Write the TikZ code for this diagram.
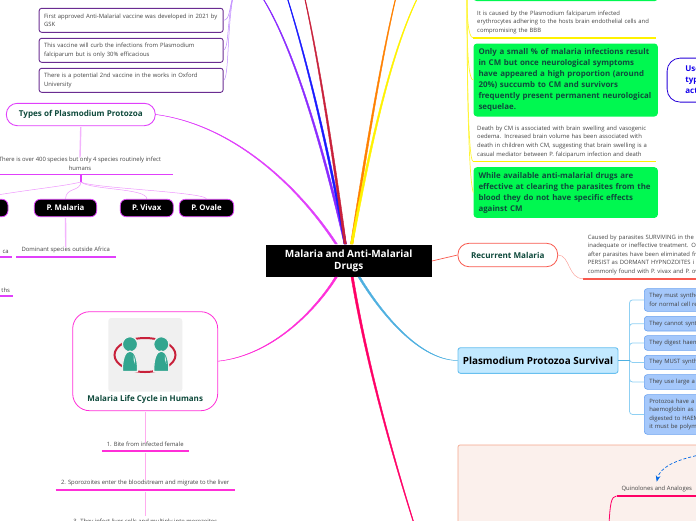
\documentclass[tikz,border=0pt]{standalone}
\usepackage{fontspec}
\setmainfont{Open Sans}
\usetikzlibrary{arrows.meta, calc}
\definecolor{inkgray}{HTML}{444444}
\definecolor{inkgreen}{HTML}{0F4A3C}
\definecolor{vacpurple}{HTML}{6A2C91}
\definecolor{lilac}{HTML}{8A2BFF}
\definecolor{typemag}{HTML}{E040FB}
\definecolor{lifemag}{HTML}{FF2FD8}
\definecolor{recred}{HTML}{F8594E}
\definecolor{skyline}{HTML}{69C0EF}
\definecolor{skyfill}{HTML}{C2E9FF}
\definecolor{skytrunk}{HTML}{4FB0E0}
\definecolor{leaffill}{HTML}{A5C8FB}
\definecolor{leafline}{HTML}{6AA2F0}
\definecolor{hotgreen}{HTML}{00F850}
\definecolor{crimson}{HTML}{FF0066}
\definecolor{winered}{HTML}{C8203A}
\definecolor{pawn}{HTML}{33A58F}
\definecolor{panelfill}{HTML}{FBF0EC}
\definecolor{panelline}{HTML}{F4A58A}
\newcommand{\limb}[5]{\filldraw[#1, line width=0.4pt] (#2) .. controls (#3) and (#4) .. ($(#5)+(-0.3,0)$) -- ($(#5)+(0.3,0)$) .. controls ($(#4)+(1.5,0)$) and ($(#3)+(2,0)$) .. ($(#2)+(2.4,0)$) -- cycle;}
\begin{document}
\begin{tikzpicture}[
    x=1pt, y=-1pt,
    >=Stealth,
    lbl/.style={font=\fontsize{5.9}{8.6}\selectfont, text=inkgray, align=left, inner sep=0pt},
    ulbl/.style={font=\fontsize{5.9}{8.6}\selectfont, text=inkgray, align=center, inner xsep=0pt, inner ysep=3.6pt, anchor=south},
    capt/.style={font=\fontsize{8.1}{10}\bfseries\selectfont, text=inkgreen, inner sep=0pt, draw, fill=white, line width=0.9pt},
    vacbox/.style={lbl, draw=vacpurple, line width=0.9pt, rounded corners=2.5pt, anchor=west, minimum width=184pt, minimum height=24pt, inner xsep=5pt, text width=174pt, fill=white},
    species/.style={font=\fontsize{7.8}{9}\bfseries\selectfont, text=white, fill=black, draw=typemag, line width=0.8pt, rounded corners=6pt, minimum height=17.4pt, inner sep=0pt},
    greenbox/.style={font=\fontsize{7.9}{11}\bfseries\selectfont, text=inkgreen, fill=hotgreen, rounded corners=3.5pt, anchor=north west, minimum width=184.4pt, inner xsep=5pt, inner ysep=0pt, text width=174.4pt, align=left},
    leafbox/.style={lbl, text=black!75, fill=leaffill, draw=leafline, line width=0.6pt, rounded corners=3pt, anchor=north west, minimum width=80pt, inner xsep=5pt, text width=70pt},
    rail/.style={line width=1.6pt},
    softlink/.style={line width=1.4pt, draw=#1!40},
    thinlink/.style={line width=0.5pt, draw=#1!55},
]
\useasboundingbox (0,0) rectangle (696,520);
\clip (0,0) rectangle (696,520);

\coordinate (hubTopL) at (344,244);
\coordinate (hubTopR) at (350.5,244);
\coordinate (hubLeft) at (335,244);
\coordinate (hubBotL) at (335,277);
\coordinate (hubBotM) at (351,277);
\coordinate (hubBotR) at (358,277);
\coordinate (purpleOut) at (262,-3);
\coordinate (blueOut) at (287,-3);
\coordinate (redOut) at (304.5,-3);
\coordinate (orangeOut) at (396,-3);
\coordinate (yellowOut) at (418,-3);
\coordinate (crimsonOut) at (416,530);

\limb{lilac}{hubTopL}{325,160}{295,50}{purpleOut}
\limb{blue!90!white}{hubTopL}{330,160}{306,60}{blueOut}
\limb{winered}{hubTopL}{333,160}{318,60}{redOut}
\limb{orange}{hubTopR}{362,170}{380,60}{orangeOut}
\limb{yellow}{hubTopR}{364,175}{386,60}{yellowOut}
\limb{crimson}{hubBotM}{365,360}{390,450}{crimsonOut}

\node[font=\fontsize{10}{11.4}\bfseries\selectfont, text=white, fill=black, align=center, minimum width=166pt, minimum height=31.7pt, inner sep=0pt] (center) at (348.7,261) {Malaria and Anti-Malarial\\Drugs};

\node[vacbox] (vacA) at (38.7,20.3) {First approved Anti-Malarial vaccine was developed in 2021 by\\GSK};
\node[vacbox] (vacB) at (38.7,50.3) {This vaccine will curb the infections from Plasmodium\\falciparum but is only 30\% efficacious};
\node[vacbox] (vacC) at (38.7,80.3) {There is a potential 2nd vaccine in the works in Oxford\\University};
\coordinate (vacOut) at (233,-3);
\draw[thinlink=lilac] (vacA.east) .. controls (230,20) and (229,8) .. (vacOut);
\draw[thinlink=lilac] (vacB.east) .. controls (229,48) and (227,20) .. (vacOut);
\draw[thinlink=lilac] (vacC.east) .. controls (229,78) and (227,30) .. (vacOut);

\node[capt, draw=typemag, rounded corners=11pt, minimum width=149pt, minimum height=22.4pt] (types) at (80.8,114.5) {Types of Plasmodium Protozoa};
\limb{typemag}{hubLeft}{300,190}{235,125}{types.east}
\node[ulbl, minimum width=186pt] (species) at (80,174.3) {There is over 400 species but only 4 species routinely infect\\humans};
\draw[rail, typemag] (species.south west) -- (species.south east);
\draw[softlink=typemag] (types.south) ++(0,1) -- ($(species.north)+(0,4)$);
\coordinate (speciesHub) at (81,182);
\draw[typemag, line width=1.3pt] (species.south -| speciesHub) -- (speciesHub);

\node[species, minimum width=68pt] (falci) at (-26,208) {};
\node[species, minimum width=62.4pt] (malaria) at (65.5,208) {P. Malaria};
\node[species, minimum width=53pt] (vivax) at (146.8,208) {P. Vivax};
\node[species, minimum width=54.4pt] (ovale) at (206.5,208) {P. Ovale};
\draw[thinlink=typemag] (speciesHub) .. controls (60,187) and (30,189) .. (falci.north);
\draw[thinlink=typemag] (speciesHub) .. controls (80,192) and (66,187) .. (malaria.north);
\draw[thinlink=typemag] (speciesHub) .. controls (90,190) and (147,188) .. (vivax.north);
\draw[thinlink=typemag] (speciesHub) .. controls (90,188) and (205,192) .. (ovale.north);

\node[ulbl, minimum width=99pt] (dominant) at (65.8,257) {Dominant species outside Africa};
\draw[rail, typemag] (dominant.south west) -- (dominant.south east);
\draw[softlink=typemag] (malaria.south) ++(0,1) -- ($(dominant.north)+(0,4)$);
\node[ulbl, minimum width=40pt, align=right, text width=34.7pt] (africa) at (-8.7,257) {ca};
\draw[rail, typemag] (africa.south west) -- (africa.south east);
\node[ulbl, minimum width=40pt, align=right, text width=35.4pt] (months) at (-7.7,296) {ths};
\draw[rail, typemag] (months.south west) -- (months.south east);

\node[draw=lifemag, fill=white, line width=0.8pt, rounded corners=17pt, minimum width=145pt, minimum height=99pt, inner sep=0pt] (cycle) at (145.2,361.2) {};
\limb{lifemag}{hubBotL}{318,305}{275,355}{cycle.east}
\fill[black!6, rounded corners=3pt] (108.3,318) rectangle (182.3,391.7);
\draw[winered, line width=2pt] (145,355) ellipse [x radius=30.5pt, y radius=17pt];
\foreach \px in {130,161.3}{
  \filldraw[pawn, draw=black!6, line width=1.2pt] (\px,344.3) circle (7.6pt);
  \filldraw[pawn, draw=black!6, line width=1.2pt] (\px-7.5,371.5) .. controls (\px-8,360) and (\px-5,351) .. (\px,351) .. controls (\px+5,351) and (\px+8,360) .. (\px+7.5,371.5) -- cycle;
  \fill[white!80!pawn] (\px+3.5,355) .. controls (\px+5,358) and (\px+5,361) .. (\px+5,364) .. controls (\px+3.5,361) and (\px+3,358) .. (\px+3.5,355) -- cycle;
}
\node[font=\fontsize{8}{9}\bfseries\selectfont, text=inkgreen, inner sep=0pt] (cyclename) at (145.2,399) {Malaria Life Cycle in Humans};

\node[ulbl, minimum width=86.3pt] (stepA) at (145.2,450.7) {1. Bite from infected female};
\draw[rail, lifemag] (stepA.south west) -- (stepA.south east);
\node[ulbl, minimum width=178.7pt] (stepB) at (145.2,489.7) {2. Sporozoites enter the bloodstream and migrate to the liver};
\draw[rail, lifemag] (stepB.south west) -- (stepB.south east);
\node[lbl, align=center] (stepC) at (145.2,522) {3. They infect liver cells and multiply into merozoites};
\draw[softlink=lifemag] (cycle.south) ++(0,1) -- ($(stepA.north)+(0,4)$);
\draw[softlink=lifemag] (stepA.south) ++(0,2) -- ($(stepB.north)+(0,4)$);
\draw[softlink=lifemag] (stepB.south) ++(0,2) -- ($(stepC.north)+(0,-3)$);

\node[draw=recred, fill=white, line width=0.8pt, rounded corners=11pt, minimum width=99.7pt, minimum height=23.4pt, font=\fontsize{8.1}{9}\bfseries\selectfont, text=inkgreen, inner sep=0pt] (recurrent) at (507.8,255) {Recurrent Malaria};
\draw[recred, line width=0.7pt] (center.east) -- (recurrent.west);
\node[lbl, anchor=south west, inner xsep=4.7pt, inner ysep=3.6pt, text width=125pt] (recurtext) at (583,278.7) {Caused by parasites SURVIVING in the\\inadequate or ineffective treatment. Or\\after parasites have been eliminated fr\\PERSIST as DORMANT HYPNOZOITES i\\commonly found with P. vivax and P. ova};
\draw[rail, recred] (recurtext.south west) -- (recurtext.south east);
\draw[thinlink=recred] (recurrent.east) .. controls (570,255) and (568,278.7) .. (recurtext.south west);

\node[draw=skyline, fill=skyfill, line width=0.9pt, rounded corners=2.5pt, minimum width=160pt, minimum height=25.6pt, inner sep=0pt, font=\fontsize{9.9}{11}\bfseries\selectfont, text=black] (survival) at (538,360.5) {Plasmodium Protozoa Survival};
\limb{skytrunk}{hubBotR}{375,305}{415,360}{survival.west}
\coordinate (survHub) at (629.5,360.5);
\node[leafbox, minimum height=22.7pt] (leafA) at (644,288.3) {They must synthe\\for normal cell re};
\node[leafbox, minimum height=14.7pt] (leafB) at (644,316) {They cannot synth};
\node[leafbox, minimum height=14.7pt] (leafC) at (644,335.3) {They digest haem};
\node[leafbox, minimum height=14.3pt] (leafD) at (644,355) {They MUST synth};
\node[leafbox, minimum height=14.7pt] (leafE) at (644,374.3) {They use large a};
\node[leafbox, minimum height=39.7pt] (leafF) at (644,394.3) {Protozoa have a l\\haemoglobin as a\\digested to HAEM\\it must be polyme};
\foreach \leaf in {leafA,leafB,leafC,leafD,leafE,leafF}{
  \draw[skyline!75, line width=0.8pt, rounded corners=3pt] (survHub) |- (\leaf.west);
}
\draw[skytrunk, line width=1.6pt] (survival.east) -- (survHub);

\draw[draw=panelline, fill=panelfill, line width=0.7pt, rounded corners=2pt] (458,445) rectangle (730,540);
\node[ulbl, minimum width=80pt, inner ysep=4pt] (quino) at (656.7,496) {Quinolones and Analoges};
\draw[crimson, line width=1.6pt] (quino.south east) -- (quino.south west);
\coordinate (quinoIn) at (696,455.7);
\coordinate (quinoDown) at (609,525);
\draw[crimson, line width=0.8pt] (quino.south west) .. controls (611,496) and (610,505) .. (quinoDown);
\draw[->, densely dashed, blue!55!cyan!90!black, line width=0.7pt] (quinoIn) .. controls (673,461) and (660,468) .. (quino.north);

\node[greenbox, minimum height=6pt] (greenA) at (473.3,-5) {};
\node[lbl, anchor=south west, inner xsep=3.7pt, inner ysep=3.6pt, minimum width=183pt, text width=175pt] (textA) at (473,37.7) {It is caused by the Plasmodium falciparum infected\\erythrocytes adhering to the hosts brain endothelial cells and\\compromising the BBB};
\draw[rail, yellow] (textA.south west) -- (textA.south east);
\node[greenbox, minimum height=73pt] (greenB) at (473.3,43.3) {Only a small \% of malaria infections result\\in CM but once neurological symptoms\\have appeared a high proportion (around\\20\%) succumb to CM and survivors\\frequently present permanent neurological\\sequelae.};
\node[lbl, anchor=south west, inner xsep=3.7pt, inner ysep=3.6pt, minimum width=183pt, text width=175pt] (textB) at (473,161.3) {Death by CM is associated with brain swelling and vasogenic\\oedema. Increased brain volume has been associated with\\death in children with CM, suggesting that brain swelling is a\\casual mediator between P. falciparum infection and death};
\draw[rail, yellow] (textB.south west) -- (textB.south east);
\node[greenbox, minimum height=50.7pt] (greenC) at (473.3,167) {While available anti-malarial drugs are\\effective at clearing the parasites from the\\blood they do not have specific effects\\against CM};
\coordinate (yellowIn) at (467,-3);
\draw[yellow!80!white, line width=0.7pt] (yellowIn) .. controls (467,15) and (468,37.7) .. (textA.south west);
\draw[yellow!80!white, line width=0.7pt] (yellowIn) .. controls (467,30) and (467,80) .. (greenB.west);
\draw[yellow!80!white, line width=0.7pt] (yellowIn) .. controls (467,60) and (468,161.3) .. (textB.south west);
\draw[yellow!80!white, line width=0.7pt] (yellowIn) .. controls (467,100) and (469,180) .. (greenC.west);

\node[draw=blue!70!violet, fill=white, line width=0.8pt, rounded corners=13pt, anchor=north west, minimum width=80pt, minimum height=44pt, inner xsep=18.3pt, inner ysep=0pt, text width=50pt, align=left, font=\fontsize{8}{11}\bfseries\selectfont, text=blue!85!violet] (usebox) at (666.7,57.7) {Use\\typ\\act};
\end{tikzpicture}
\end{document}
